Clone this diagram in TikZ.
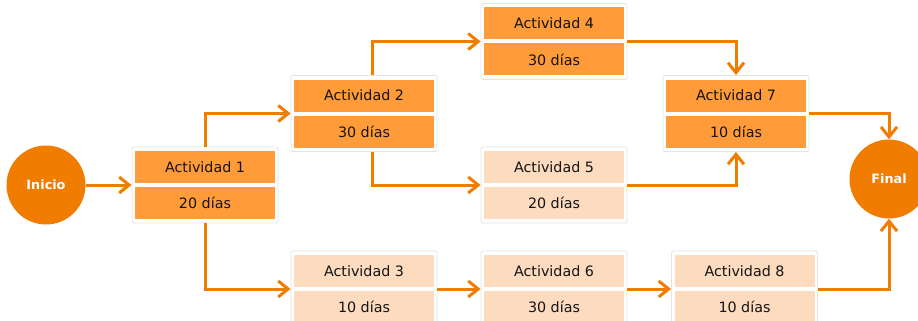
\documentclass[tikz,border=0pt]{standalone}
\usepackage{fontspec}
\setmainfont{DejaVu Sans}
\usetikzlibrary{arrows.meta,calc}

\definecolor{darkor}{HTML}{F07C00}
\definecolor{midor}{HTML}{FF9B38}
\definecolor{paleor}{HTML}{FDDBBE}
\definecolor{frameg}{HTML}{E4E4E4}
\definecolor{txt}{HTML}{141414}

\tikzset{
  frame/.style={draw=frameg, line width=0.8pt, rounded corners=1.5pt, fill=white,
                minimum width=146pt, minimum height=76pt, inner sep=0pt},
  cell/.style={minimum width=140pt, minimum height=32pt, inner sep=0pt, text=txt,
               font=\fontsize{14.3}{16}\selectfont},
  hot/.style={cell, fill=midor},
  cool/.style={cell, fill=paleor},
  endpoint/.style={circle, fill=darkor, minimum size=79pt, inner sep=0pt, text=white,
                   font=\bfseries\fontsize{12.8}{14}\selectfont},
  link/.style={draw=darkor, line width=3pt, -{Straight Barb[length=10pt,width=16pt]}},
}

% activity card: name, x, y, cell style, title, duration
\newcommand\activity[6]{%
  \node[frame] (#1) at (#2,#3) {};
  \node[#4] (#1t) at ($(#1)+(0,-18)$) {#5};
  \node[#4] (#1b) at ($(#1)+(0,18)$) {#6};
}

\begin{document}
\begin{tikzpicture}[x=1pt, y=-1pt]
  \useasboundingbox (0,0) rectangle (918,321);
  \fill[white] (0,0) rectangle (918,321);
  \clip (0,0) rectangle (918,321);

  \node[endpoint] (ini) at (46,185) {Inicio};
  \node[endpoint] (fin) at (889,179) {Final};

  \activity{a1}{205}{185}{hot}{Actividad 1}{20 días}
  \activity{a2}{364}{113.5}{hot}{Actividad 2}{30 días}
  \activity{a3}{364}{289}{cool}{Actividad 3}{10 días}
  \activity{a4}{554}{41.5}{hot}{Actividad 4}{30 días}
  \activity{a5}{554}{185}{cool}{Actividad 5}{20 días}
  \activity{a6}{554}{289}{cool}{Actividad 6}{30 días}
  \activity{a7}{736}{113.5}{hot}{Actividad 7}{10 días}
  \activity{a8}{744.5}{289}{cool}{Actividad 8}{10 días}

  \draw[link] (ini) -- (a1);
  \draw[link] (a1.north) |- (a2.west);
  \draw[link] (a1.south) |- (a3.west);
  \draw[link] ([xshift=8pt]a2.north) |- (a4.west);
  \draw[link] ([xshift=8pt]a2.south) |- (a5.west);
  \draw[link] (a3.east) -- (a6.west);
  \draw[link] (a6.east) -- (a8.west);
  \draw[link] (a4.east) -| (a7.north);
  \draw[link] (a5.east) -| (a7.south);
  \draw[link] (a7.east) -| (fin.north);
  \draw[link] (a8.east) -| (fin.south);
\end{tikzpicture}
\end{document}
